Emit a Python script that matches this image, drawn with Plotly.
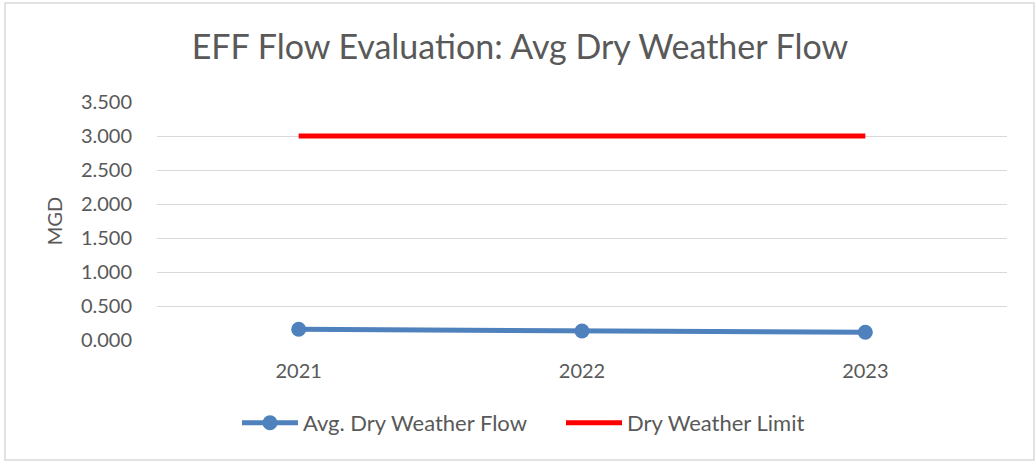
import plotly.graph_objects as go

years = ["2021", "2022", "2023"]
avg_dry_weather_flow = [0.157, 0.132, 0.113]
dry_weather_limit = [3.0, 3.0, 3.0]
y_ticks = [0, 0.5, 1.0, 1.5, 2.0, 2.5, 3.0, 3.5]

FONT = "Lato"
GREY = "#595959"

fig = go.Figure()
fig.add_trace(go.Scatter(
    x=years, y=avg_dry_weather_flow, name="Avg. Dry Weather Flow",
    mode="lines+markers",
    line=dict(color="#4f81bd", width=5),
    marker=dict(color="#4f81bd", size=15),
    legend="legend",
))
fig.add_trace(go.Scatter(
    x=years, y=dry_weather_limit, name="Dry Weather Limit",
    mode="lines",
    line=dict(color="#ff0000", width=5),
    legend="legend2",
))

L, R, T, B = 157, 1007, 102, 340
W, H = 1036, 461
pw, ph = R - L, B - T

def px_x(p):
    return (p - L) / pw

def px_y(p):
    return (B - p) / ph

leg_common = dict(orientation="h", y=px_y(423), yanchor="middle", xanchor="left",
                  font=dict(size=22, color=GREY), bgcolor="rgba(0,0,0,0)",
                  itemwidth=56)

fig.update_layout(
    width=W, height=H,
    margin=dict(l=L, r=W - R, t=T, b=H - B, pad=0),
    paper_bgcolor="white", plot_bgcolor="white",
    font=dict(family=FONT, color=GREY, size=20),
    title=dict(text="EFF Flow Evaluation: Avg Dry Weather Flow",
               x=520 / W, xanchor="center", y=1 - 47 / H, yanchor="middle",
               font=dict(size=34, color=GREY, family=FONT)),
    xaxis=dict(type="category", range=[-0.5, 2.5], showgrid=False,
               showline=False, ticks="", zeroline=False,
               tickfont=dict(size=20, color=GREY), ticklabelstandoff=17),
    yaxis=dict(range=[0, 3.5], tickvals=y_ticks, tickformat=".3f",
               showgrid=True, gridcolor="#d9d9d9", gridwidth=1,
               zeroline=False, showline=False, ticks="",
               ticklabelstandoff=24,
               tickfont=dict(size=20, color=GREY),
               title=dict(text="MGD", font=dict(size=20, color=GREY), standoff=12)),
    legend=dict(x=px_x(237), **leg_common),
    legend2=dict(x=px_x(561), **leg_common),
    showlegend=True,
    shapes=[dict(type="rect", xref="paper", yref="paper",
                 x0=px_x(5), x1=px_x(1034), y0=px_y(460), y1=px_y(3),
                 line=dict(color="#d9d9d9", width=1.5), fillcolor="rgba(0,0,0,0)", layer="below")],
)

fig.write_html("out.html", config={"displayModeBar": False},
               post_script="document.body.style.margin='0px';")
